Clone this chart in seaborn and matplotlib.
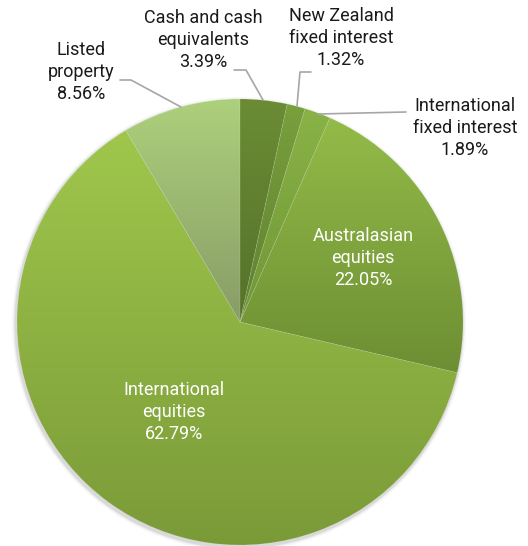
import numpy as np
import matplotlib
matplotlib.use("Agg")
import matplotlib.pyplot as plt
import seaborn as sns
from matplotlib.colors import LinearSegmentedColormap

# data
categories = ["Cash and cash\nequivalents", "New Zealand\nfixed interest",
              "International\nfixed interest", "Australasian\nequities",
              "International\nequities", "Listed\nproperty"]
shares = [3.39, 1.32, 1.89, 22.05, 62.79, 8.56]
top_colors = ["#6b8c35", "#78a03c", "#89b346", "#93bb48", "#a0c74c", "#add07c"]
bottom_colors = ["#55722a", "#5f8030", "#709636", "#6d8e33", "#7a9a38", "#889c66"]

sns.set_theme(style="white")
plt.rcParams['font.family'] = ['Roboto', 'DejaVu Sans']

W, H = 528, 546
fig = plt.figure(figsize=(W / 100, H / 100), dpi=100)
ax = fig.add_axes([0, 0, 1, 1])

cx, cy, r = 240, H - 322, 223

# soft shadow
for k, a in zip([4, 2.5, 1.5], [0.03, 0.05, 0.07]):
    ax.add_patch(plt.Circle((cx - 1, cy - 2), r + k, color="black", alpha=a, lw=0, zorder=0))

wedges, _ = ax.pie(shares, startangle=90, counterclock=False, center=(cx, cy),
                   radius=r, colors=top_colors, frame=True,
                   wedgeprops=dict(edgecolor=(1, 1, 1, 0.12), linewidth=0.5))
ax.set_xlim(0, W)
ax.set_ylim(0, H)
ax.set_aspect("equal")
ax.axis("off")

grad = np.linspace(0, 1, 256).reshape(-1, 1)
for w, c1, c2 in zip(wedges, top_colors, bottom_colors):
    v = w.get_path().vertices
    y0, y1 = v[:, 1].min(), v[:, 1].max()
    x0, x1 = v[:, 0].min(), v[:, 0].max()
    cmap = LinearSegmentedColormap.from_list("g", [c2, c1])
    im = ax.imshow(grad, cmap=cmap, extent=(x0, x1, y0, y1), origin="lower",
                   aspect="auto", zorder=2, interpolation="bilinear")
    im.set_clip_path(w)
    w.set_facecolor("none")
    w.set_zorder(3)

fs = 13
outside = dict(ha="center", va="center", fontsize=fs, color="#1a1a1a", linespacing=1.28)
inside = dict(ha="center", va="center", fontsize=fs, color="white", linespacing=1.28)

def lbl(i):
    return f"{categories[i]}\n{shares[i]:.2f}%"

ax.text(203, H - 40, lbl(0), **outside)
ax.text(341, H - 38, lbl(1), **outside)
ax.text(465, H - 128, lbl(2), **outside)
ax.text(363, H - 258, lbl(3), **inside)
ax.text(174, H - 412, lbl(4), **inside)
ax.text(81, H - 72, lbl(5), **outside)

lc = dict(color="#a6a6a6", lw=1.2, zorder=4)
ax.plot([234, 246, 263], [H - 70, H - 70, H - 100], **lc)
ax.plot([311, 300, 297], [H - 72, H - 72, H - 106], **lc)
ax.plot([406, 318], [H - 112, H - 114], **lc)
ax.plot([120, 131, 181], [H - 80, H - 80, H - 107], **lc)

fig.savefig("out.png", dpi=100, facecolor="white")
